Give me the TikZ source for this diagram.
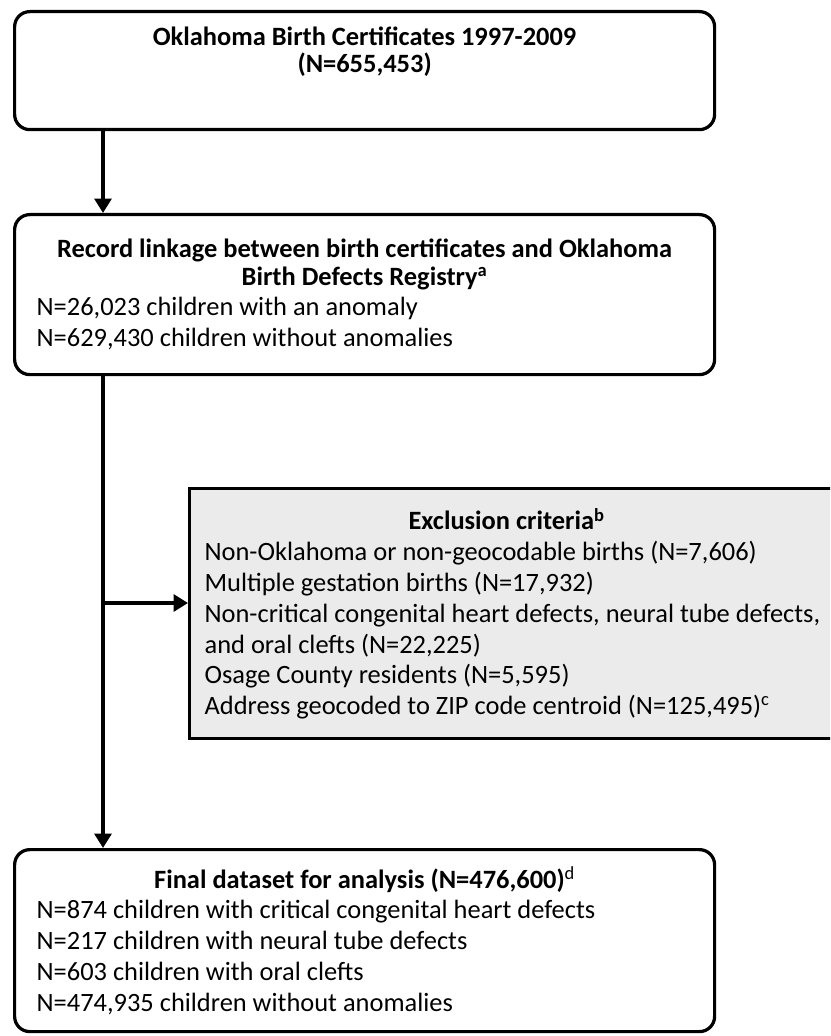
\documentclass[tikz,border=0pt]{standalone}
\usepackage{fontspec}
\setmainfont{Carlito}
\usetikzlibrary{arrows.meta}
\definecolor{exFill}{HTML}{EBEBEB}
\newcommand{\boxtitle}{\fontsize{18.8pt}{19.6pt}\selectfont\bfseries\centering}

\begin{document}
\begin{tikzpicture}[
  stage/.style={draw, line width=2.3pt, rounded corners=0.38cm, fill=white,
    anchor=north west, minimum width=17.5cm, text width=16.4cm, inner xsep=0.55cm,
    align=flush left, font=\fontsize{18.8pt}{21.9pt}\selectfont},
  exclbox/.style={draw, line width=2.3pt, fill=exFill,
    anchor=north west, minimum width=16.4cm, text width=15.65cm, inner xsep=0.375cm,
    align=flush left, font=\fontsize{18.8pt}{21.9pt}\selectfont},
  arr/.style={-{Triangle[length=0.36cm, width=0.42cm]}, line width=2.8pt}
]
  \useasboundingbox (0,0) rectangle (20.75,-25.9);
  \clip (0,0) rectangle (20.75,-25.9);

  \node[stage, minimum height=2.95cm] (cert) at (0.325,-0.25) {
    {\boxtitle Oklahoma Birth Certificates 1997-2009\\
    (N=655,453)\par}
    \vspace{0.95cm}\hrule height 0pt
  };
  \node[stage, minimum height=4cm] (link) at (0.325,-5.325) {
    {\boxtitle Record linkage between birth certificates and Oklahoma\\
    Birth Defects Registry\textsuperscript{a}\par}
    N=26,023 children with an anomaly\\
    N=629,430 children without anomalies
  };
  \node[exclbox, minimum height=6.25cm] (excl) at (4.7,-12.175) {
    {\boxtitle Exclusion criteria\textsuperscript{b}\hspace*{0.55cm}\par}
    Non-Oklahoma or non-geocodable births (N=7,606)\\
    Multiple gestation births (N=17,932)\\
    Non-critical congenital heart defects, neural tube defects,\\
    and oral clefts (N=22,225)\\
    Osage County residents (N=5,595)\\
    Address geocoded to ZIP code centroid (N=125,495)\textsuperscript{c}
  };
  \node[stage, minimum height=4.55cm] (final) at (0.325,-21.2) {
    {\boxtitle Final dataset for analysis (N=476,600)\textsuperscript{\mdseries d}\par}
    N=874 children with critical congenital heart defects\\
    N=217 children with neural tube defects\\
    N=603 children with oral clefts\\
    N=474,935 children without anomalies
  };

  % trunk of the flow
  \coordinate (trunk) at (2.575,0);
  \coordinate (split) at (2.575,-15.075);

  \draw[arr] (cert.south -| trunk) -- (link.north -| trunk);
  \draw[arr] (link.south -| trunk) -- (final.north -| trunk);
  \draw[arr] (split) -- (split -| excl.west);
\end{tikzpicture}
\end{document}
